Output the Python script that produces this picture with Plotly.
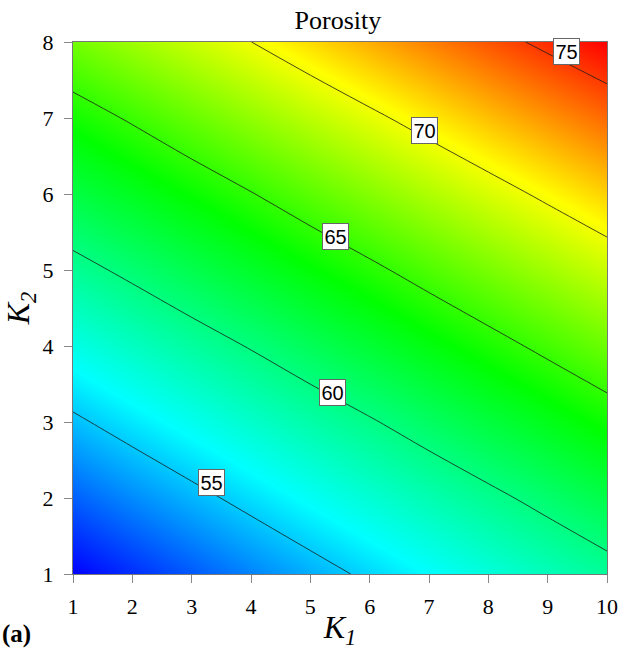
import numpy as np
import plotly.graph_objects as go

# Grid of the two coefficients
k1 = [1, 2, 3, 4, 5, 6, 7, 8, 9, 10]
k2 = [1, 2, 3, 4, 5, 6, 7, 8]

# Porosity (%) on the K1 x K2 grid, one row per K2 value
porosity = [
    [50.00, 51.10, 52.18, 53.25, 54.30, 55.33, 56.34, 57.34, 58.32, 59.29],
    [52.35, 53.43, 54.49, 55.54, 56.57, 57.58, 58.57, 59.55, 60.57, 61.64],
    [54.69, 55.76, 56.80, 57.83, 58.84, 59.83, 60.87, 61.93, 63.00, 64.07],
    [57.04, 58.08, 59.11, 60.12, 61.17, 62.23, 63.29, 64.35, 65.43, 66.50],
    [59.39, 60.42, 61.47, 62.52, 63.58, 64.63, 65.72, 66.81, 67.88, 68.93],
    [61.76, 62.81, 63.86, 64.92, 66.03, 67.12, 68.21, 69.27, 70.34, 71.40],
    [64.14, 65.21, 66.34, 67.45, 68.54, 69.63, 70.72, 71.80, 72.86, 73.88],
    [66.66, 67.78, 68.89, 69.99, 71.13, 72.24, 73.31, 74.36, 75.38, 76.37],
]

contour_levels = [55, 60, 65, 70, 75]
# K1 position at which each contour label sits, and a small upward nudge (px)
label_k1 = [3.33, 5.38, 5.43, 6.93, 9.32]
label_yshift = [10, 4, 4, 7, 12]

colorscale = [
    [0.0, "#0000ff"],
    [0.24, "#00ffff"],
    [0.52, "#00ff00"],
    [0.77, "#ffff00"],
    [1.0, "#ff0000"],
]

SERIF = "Liberation Serif"
SANS = "Liberation Sans"

z = np.array(porosity)


def level_k2(level, x):
    """K2 where the surface crosses `level` along the vertical line K1 = x."""
    col = np.array([np.interp(x, k1, row) for row in z])
    return float(np.interp(level, col, k2))


fig = go.Figure()

fig.add_trace(go.Heatmap(
    x=k1, y=k2, z=porosity,
    colorscale=colorscale,
    zsmooth="best",
    showscale=False,
    hoverinfo="skip",
))

fig.add_trace(go.Contour(
    x=k1, y=k2, z=porosity,
    contours=dict(
        coloring="none",
        start=contour_levels[0],
        end=contour_levels[-1],
        size=contour_levels[1] - contour_levels[0],
        showlabels=False,
    ),
    line=dict(color="#1a1a1a", width=0.8),
    showscale=False,
    hoverinfo="skip",
))

for lvl, xk, ys in zip(contour_levels, label_k1, label_yshift):
    fig.add_annotation(
        x=xk, y=level_k2(lvl, xk), xref="x", yref="y",
        text=str(lvl), showarrow=False,
        font=dict(family=SANS, size=20, color="black"),
        bgcolor="white", bordercolor="#666666", borderwidth=1, borderpad=1.5,
        yshift=ys,
    )

fig.add_annotation(
    x=-0.137, y=-0.112, xref="paper", yref="paper",
    text="<b>(a)</b>", showarrow=False,
    xanchor="left", yanchor="middle",
    font=dict(family=SERIF, size=25, color="black"),
)

axis_common = dict(
    showline=True, linecolor="#777777", linewidth=1, mirror=True,
    ticks="outside", ticklen=8, tickcolor="#888888", tickwidth=1,
    showgrid=False, zeroline=False, automargin=False,
    tickfont=dict(family=SERIF, size=22, color="black"),
)

fig.update_layout(
    width=620, height=650,
    margin=dict(l=73, r=13, t=42, b=76),
    paper_bgcolor="white", plot_bgcolor="white",
    title=dict(
        text="Porosity", x=0.545, xanchor="center", y=0.97, yanchor="middle",
        font=dict(family=SERIF, size=26, color="black"),
    ),
    xaxis=dict(
        range=[1, 10], tickvals=k1, ticklabelstandoff=5, **axis_common,
        title=dict(text="<i>K<sub>1</sub></i>", standoff=0,
                   font=dict(family=SERIF, size=32, color="black")),
    ),
    yaxis=dict(
        range=[1, 8], tickvals=k2, ticklabelstandoff=6, **axis_common,
        title=dict(text="<i>K<sub>2</sub></i>", standoff=4,
                   font=dict(family=SERIF, size=32, color="black")),
    ),
    showlegend=False,
)

fig.write_html("out.html")
